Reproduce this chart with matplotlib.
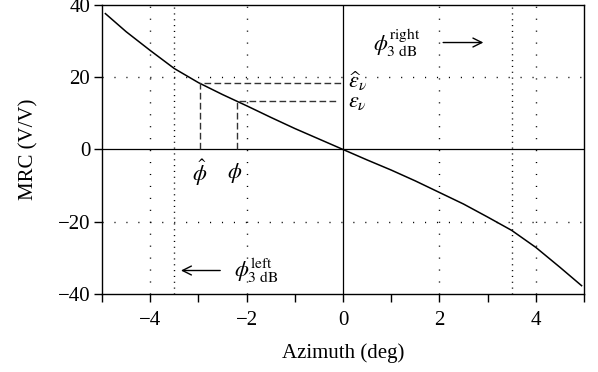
import matplotlib
matplotlib.use("Agg")
import matplotlib.pyplot as plt

plt.rcParams['font.family'] = ['Liberation Serif', 'DejaVu Serif']
plt.rcParams['mathtext.fontset'] = 'stix'

# curve
azimuth = [-4.93, -4.5, -4.0, -3.5, -3.0, -2.5, -2.0, -1.5, -1.0, -0.5, 0.0,
           0.5, 1.0, 1.5, 2.0, 2.5, 3.0, 3.5, 4.0, 4.5, 4.95]
mrc = [37.6, 32.6, 27.4, 22.4, 18.5, 15.2, 12.1, 8.9, 5.8, 2.9, 0.0,
       -2.9, -5.7, -8.7, -11.9, -15.1, -18.7, -22.4, -27.1, -32.6, -37.7]

# marked points
phi_hat, eps_hat = -2.97, 18.4
phi, eps = -2.19, 13.4
bw_3db = [-3.5, 3.5]

xticks = [-4, -2, 0, 2, 4]
yticks = [-40, -20, 0, 20, 40]

fig = plt.figure(figsize=(5.98, 3.72), dpi=100)
ax = fig.add_axes([0.1706, 0.2097, 0.806, 0.777])

# grid
for xv in [-4, -2, 2, 4]:
    ax.axvline(xv, color='black', lw=1, dashes=(0.8, 7.8))
for yv in [-20, 20]:
    ax.axhline(yv, color='black', lw=1, dashes=(0.8, 7.8))
for xv in bw_3db:
    ax.axvline(xv, color='black', lw=1, dashes=(0.8, 3.4))
ax.axvline(0, color='black', lw=0.9)
ax.axhline(0, color='black', lw=0.9)

ax.plot(azimuth, mrc, color='black', lw=1.1)

# dashed guides
ax.plot([phi_hat, phi_hat, 0], [0, eps_hat, eps_hat], color='#333333', lw=1, dashes=(4.8, 2.4))
ax.plot([phi, phi, -0.1], [0, eps, eps], color='#333333', lw=1, dashes=(4.8, 2.4))

ax.text(phi_hat, -6.6, r'$\hat{\phi}$', fontsize=16, ha='center', va='center')
ax.text(phi - 0.05, -6.6, r'$\phi$', fontsize=16, ha='center', va='center')
ax.text(0.1, eps_hat + 0.5, r'$\widehat{\epsilon}_{\nu}$', fontsize=16, ha='left', va='center')
ax.text(0.1, eps - 0.5, r'$\epsilon_{\nu}$', fontsize=16, ha='left', va='center')

ax.text(1.12, 29.6, r'$\phi_{3\ \mathrm{dB}}^{\mathrm{right}}$', fontsize=16, ha='center', va='center')
ax.annotate('', xy=(2.97, 29.6), xytext=(2.02, 29.6),
            arrowprops=dict(arrowstyle='->', color='black', lw=1, mutation_scale=16))
ax.text(-2.27, -33.5, r'$\phi_{3\ \mathrm{dB}}^{\mathrm{left}}$', fontsize=16, ha='left', va='center')
ax.annotate('', xy=(-3.42, -33.5), xytext=(-2.49, -33.5),
            arrowprops=dict(arrowstyle='->', color='black', lw=1, mutation_scale=16))

ax.set_xlim(-5, 5)
ax.set_ylim(-40, 40)
ax.set_xticks(xticks)
ax.set_xticks([-5, -3, -1, 1, 3, 5], minor=True)
ax.set_yticks(yticks)
ax.set_xticklabels(['\u22124', '\u22122', '0', '2', '4'])
ax.set_yticklabels(['\u221240', '\u221220', '0', '20', '40'])
ax.tick_params(axis='both', which='both', direction='out', length=5.5, width=1,
               labelsize=15, colors='black')
ax.tick_params(axis='x', pad=7)
ax.tick_params(axis='y', pad=3)
for s in ax.spines.values():
    s.set_linewidth(1)

ax.set_xlabel('Azimuth (deg)', fontsize=15, labelpad=9)
ax.set_ylabel('MRC (V/V)', fontsize=15, labelpad=14)

fig.savefig('out.png', dpi=100)
